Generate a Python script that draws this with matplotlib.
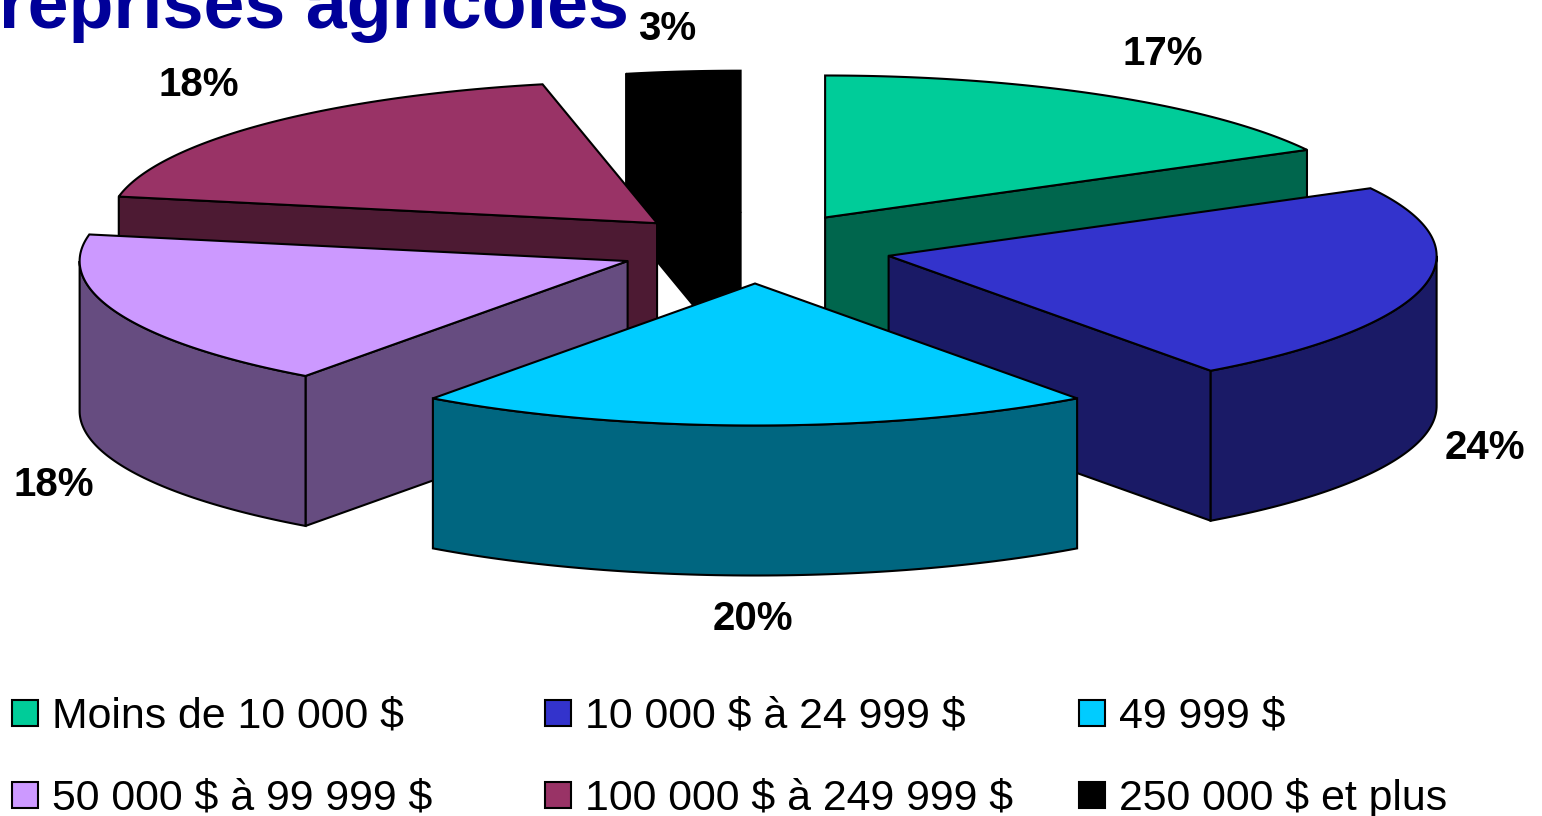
import matplotlib
matplotlib.use('Agg')
import matplotlib.pyplot as plt
import numpy as np
from matplotlib.patches import Polygon, Rectangle

plt.rcParams['font.family'] = ['Liberation Sans', 'DejaVu Sans']

# parts, clockwise from the top
categories = ['Moins de 10 000 $', '10 000 $ à 24 999 $', '49 999 $',
              '50 000 $ à 99 999 $', '100 000 $ à 249 999 $', '250 000 $ et plus']
values = [17.1, 22.9, 20.0, 18.0, 18.65, 3.35]
pct_labels = ['17%', '24%', '20%', '18%', '18%', '3%']
top_colors = ['#00CC99', '#3333CC', '#00CCFF', '#CC99FF', '#993366', '#000000']
side_colors = ['#00664D', '#1A1A66', '#006680', '#664C80', '#4D1A33', '#000000']

# pixel layout of the 3d pie
cx, cy = 755, 248
rx, ry = 548, 142
explode = 0.25
depth = 150
label_pos = [(1163, 54), (1485, 448), (753, 619), (54, 485), (199, 85), (667, 29)]
draw_order = [5, 4, 0, 3, 1, 2]

fig = plt.figure(figsize=(15.42, 8.16), dpi=100)
ax = fig.add_axes([0, 0, 1, 1])
ax.set_xlim(0, 1542)
ax.set_ylim(816, 0)
ax.axis('off')

edges = np.cumsum([0] + values) / sum(values) * 2 * np.pi


def rim(t, ox, oy):
    return np.column_stack([ox + rx * np.sin(t), oy - ry * np.cos(t)])


for i in draw_order:
    t0, t1 = edges[i], edges[i + 1]
    mid = (t0 + t1) / 2
    ox = cx + explode * rx * np.sin(mid)
    oy = cy - explode * ry * np.cos(mid)
    down = np.array([0, depth])
    apex = np.array([ox, oy])

    # cut faces, only the ones turned to the viewer
    for t, sign in [(t0, -1), (t1, 1)]:
        if sign * np.sin(t) > 1e-6:
            p = rim(np.array([t]), ox, oy)[0]
            ax.add_patch(Polygon([apex, p, p + down, apex + down], closed=True,
                                 fc=side_colors[i], ec='black', lw=1.5, joinstyle='round'))

    # outer wall, front half only
    a, b = max(t0, np.pi / 2), min(t1, 3 * np.pi / 2)
    if b > a:
        arc = rim(np.linspace(a, b, 80), ox, oy)
        wall = np.vstack([arc, arc[::-1] + down])
        ax.add_patch(Polygon(wall, closed=True, fc=side_colors[i], ec='black', lw=1.5))

    # top
    arc = rim(np.linspace(t0, t1, 120), ox, oy)
    ax.add_patch(Polygon(np.vstack([apex, arc]), closed=True, fc=top_colors[i],
                         ec='black', lw=1.5))

for lab, (x, y) in zip(pct_labels, label_pos):
    ax.text(x, y, lab, fontsize=29, fontweight='bold', ha='center', va='center')

ax.text(629, 28, 'reprises agricoles', fontsize=53, fontweight='bold', color='#000099',
        ha='right', va='baseline')

# legend
col_x = [12, 545, 1079]
row_y = [713, 795]
for i, name in enumerate(categories):
    x = col_x[i % 3]
    y = row_y[i // 3]
    ax.add_patch(Rectangle((x, y - 13), 26, 26, fc=top_colors[i], ec='black', lw=1.5))
    ax.text(x + 40, y + 15, name, fontsize=30.9, ha='left', va='baseline', parse_math=False)

fig.savefig('out.png', dpi=100)
